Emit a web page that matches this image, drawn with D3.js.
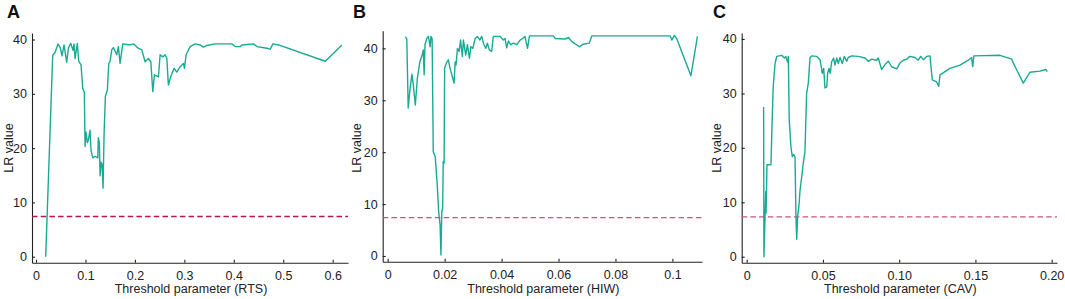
<!DOCTYPE html>
<html>
<head>
<meta charset="utf-8">
<script src="https://cdn.jsdelivr.net/npm/d3@7"></script>
<style>
  body { margin: 0; background: #fff; }
  text { font-family: Arial, "Liberation Sans", sans-serif; }
</style>
</head>
<body>
<script>
// LR value vs threshold parameter, three panels
const rtsPoints = [[0.0196, 0], [0.0338, 37.1], [0.0385, 37.6], [0.0445, 39.2], [0.049, 38.5], [0.0526, 37], [0.0567, 39], [0.0621, 35.8], [0.0658, 38.5], [0.0702, 39.3], [0.0749, 38.0], [0.0769, 39.2], [0.0789, 36.5], [0.0836, 39.3], [0.0864, 36], [0.0891, 35.6], [0.091, 35.4], [0.0945, 31], [0.0978, 30.3], [0.0992, 20.3], [0.1012, 23], [0.1038, 21], [0.106, 21.5], [0.1093, 23.3], [0.1113, 19.6], [0.1148, 18.2], [0.1194, 18.5], [0.1249, 18.2], [0.1261, 21.9], [0.1281, 21], [0.1296, 14.9], [0.1316, 17.4], [0.1336, 17], [0.1356, 12.6], [0.1377, 22.7], [0.1403, 29.5], [0.1443, 30.7], [0.1472, 35.6], [0.1498, 36], [0.1532, 38.1], [0.1565, 38.5], [0.1634, 37.2], [0.1666, 38.7], [0.17, 35.6], [0.1755, 39.2], [0.1903, 39], [0.197, 39.2], [0.2065, 38.4], [0.214, 38.1], [0.2206, 35.9], [0.2273, 36.5], [0.2322, 35.9], [0.2362, 30.4], [0.2395, 33.5], [0.2476, 33.1], [0.251, 37.2], [0.2565, 36.8], [0.2611, 37.2], [0.2646, 36.5], [0.2678, 31.6], [0.2713, 32.8], [0.2747, 33.7], [0.2794, 34.7], [0.2848, 34.0], [0.2915, 35], [0.2982, 35.6], [0.3002, 34.7], [0.3036, 37.2], [0.3117, 38.7], [0.3219, 39.2], [0.332, 39.0], [0.3387, 38.6], [0.3455, 38.9], [0.3623, 39.2], [0.3962, 39.2], [0.4028, 38.7], [0.413, 38.7], [0.4164, 39.0], [0.4399, 39.2], [0.4468, 38.7], [0.467, 38.4], [0.4737, 38.2], [0.4792, 39.2], [0.4905, 39.0], [0.585, 36.0], [0.6188, 39.0]];

const hiwPoints = [[0.0062, 42.25], [0.0067, 41.8], [0.0072, 28.5], [0.0078, 32], [0.0085, 35], [0.009, 32.9], [0.0097, 29.1], [0.0104, 34.2], [0.0113, 37.4], [0.0121, 38.7], [0.0125, 39.7], [0.0128, 34.9], [0.0131, 40.7], [0.0137, 41.9], [0.0143, 42.3], [0.0149, 40.3], [0.0152, 42.3], [0.0156, 41.9], [0.016, 20.1], [0.0167, 19.1], [0.0174, 13.7], [0.0179, 8.5], [0.0184, 6], [0.0187, 0.2], [0.019, 8.5], [0.0193, 9.2], [0.0195, 18.2], [0.0198, 17.9], [0.02, 36.2], [0.0207, 37.3], [0.0213, 37.8], [0.0219, 36.2], [0.0233, 33.3], [0.0237, 37.4], [0.024, 36.8], [0.0245, 40], [0.0251, 39.4], [0.0256, 41.6], [0.0262, 38.4], [0.0266, 41.6], [0.0274, 38.7], [0.028, 40.7], [0.0287, 38.1], [0.0292, 40.3], [0.0299, 40], [0.0307, 41.9], [0.0315, 42.3], [0.0324, 41.6], [0.033, 42.3], [0.0338, 40.7], [0.0345, 40], [0.035, 41], [0.0357, 39.7], [0.0365, 39.4], [0.0371, 42.3], [0.0395, 42.3], [0.0406, 41.6], [0.0412, 41.9], [0.0418, 40.1], [0.0424, 41.4], [0.0432, 40.7], [0.0441, 41.0], [0.0453, 40.7], [0.0465, 41.6], [0.0474, 41.9], [0.0482, 42.3], [0.0491, 40.0], [0.0498, 42.4], [0.0582, 42.4], [0.0588, 41.9], [0.0623, 41.8], [0.0635, 42.1], [0.0647, 41.3], [0.0673, 40.3], [0.0687, 40.8], [0.0708, 41.0], [0.0717, 42.4], [0.0922, 42.4], [0.0992, 42.4], [0.0998, 41.6], [0.1007, 42.5], [0.1015, 41.9], [0.1065, 34.7], [0.1088, 42.3]];

const cavPoints = [[0.0111, 27.5], [0.0113, 0], [0.0125, 12], [0.0127, 8], [0.0133, 16.9], [0.0159, 16.9], [0.0164, 22.1], [0.0174, 31.3], [0.0186, 35.5], [0.0197, 36.8], [0.023, 37.0], [0.0247, 36.5], [0.0256, 36.8], [0.0269, 35.7], [0.0273, 36.8], [0.0279, 25.1], [0.029, 20.2], [0.0299, 18.4], [0.0308, 18.8], [0.0317, 18.3], [0.0323, 7.35], [0.0328, 3.2], [0.0334, 7.4], [0.0343, 9.5], [0.035, 12.3], [0.0361, 14.7], [0.0371, 17.2], [0.0382, 19.3], [0.0393, 30], [0.0404, 31.9], [0.0415, 36.5], [0.0426, 36.9], [0.0459, 36.8], [0.047, 36.5], [0.0481, 36.2], [0.0496, 33.7], [0.0505, 34.6], [0.0513, 31], [0.0525, 31.2], [0.0531, 33.7], [0.054, 34.6], [0.0548, 33.7], [0.0557, 35.8], [0.057, 36.5], [0.0579, 35.2], [0.059, 36.5], [0.0601, 35.5], [0.0612, 36.6], [0.0627, 35.5], [0.064, 36.8], [0.0656, 35.9], [0.0666, 36.6], [0.0689, 36.9], [0.0732, 36.8], [0.0776, 36.5], [0.0797, 35.9], [0.082, 36.3], [0.0852, 36.1], [0.0863, 36.5], [0.0885, 34.4], [0.0907, 35.3], [0.0929, 35.9], [0.0951, 34.9], [0.0984, 34.5], [0.1005, 35.6], [0.1027, 36.1], [0.1049, 36.3], [0.1071, 36.8], [0.1104, 36.6], [0.1125, 36.1], [0.1141, 36.8], [0.1158, 36.2], [0.118, 36.8], [0.1202, 36.9], [0.1217, 32.5], [0.1246, 32.1], [0.1259, 31.3], [0.1268, 33.4], [0.1333, 34.6], [0.1399, 35.2], [0.1453, 36.1], [0.1475, 36.6], [0.1482, 34.9], [0.149, 36.9], [0.1661, 37.0], [0.1738, 36.3], [0.1748, 35.6], [0.1814, 31.9], [0.1858, 33.9], [0.1923, 34.1], [0.1961, 34.4], [0.1971, 34.0]];

const panelLetters = ["A", "B", "C"];
const xLabels = ["Threshold parameter (RTS)", "Threshold parameter (HIW)", "Threshold parameter (CAV)"];
const thresholds = [7.4, 7.4, 7.3];
const yTicks = [0, 10, 20, 30, 40];
const rtsTicks = [0, 0.1, 0.2, 0.3, 0.4, 0.5, 0.6];
const hiwTicks = [0, 0.02, 0.04, 0.06, 0.08, 0.1];
const cavTicks = [0, 0.05, 0.10, 0.15, 0.20];

const lineColor = "#1aa994";

const svg = d3.select("body")
    .append("svg")
    .attr("width", 1065)
    .attr("height", 299);

const panels = [
  { points: rtsPoints, ticks: rtsTicks, fmt: d => d === 0 ? "0" : d3.format(".1f")(d),
    xDomain: [-0.0081, 0.631], xRange: [32, 348], yDomain: [-1.1, 41.2], yRange: [262.7, 33],
    letterX: 7, ylabX: 9, dash: "#b3174c", dashW: 1.6 },
  { points: hiwPoints, ticks: hiwTicks, fmt: d => d === 0 ? "0" : (d === 0.1 ? "0.1" : d3.format(".2f")(d)),
    xDomain: [-0.00176, 0.1104], xRange: [382.7, 702], yDomain: [-1.1, 43.4], yRange: [261.7, 30.7],
    letterX: 353, ylabX: 357, dash: "#c9557a", dashW: 1.25 },
  { points: cavPoints, ticks: cavTicks, fmt: d => d === 0 ? "0" : d3.format(".2f")(d),
    xDomain: [-0.00328, 0.2035], xRange: [741.7, 1057], yDomain: [-1.1, 41.1], yRange: [262.7, 33],
    letterX: 713, ylabX: 717, dash: "#c9557a", dashW: 1.25 }
];

panels.forEach((p, i) => {
  const x = d3.scaleLinear().domain(p.xDomain).range(p.xRange);
  const y = d3.scaleLinear().domain(p.yDomain).range(p.yRange);
  const g = svg.append("g");

  // axes, ticks pointing inward
  const xAxis = g.append("g")
      .attr("transform", `translate(0,${p.yRange[0]})`)
      .call(d3.axisBottom(x).tickValues(p.ticks).tickFormat(p.fmt)
          .tickSizeInner(-3).tickSizeOuter(0).tickPadding(8));
  const yAxis = g.append("g")
      .attr("transform", `translate(${p.xRange[0]},0)`)
      .call(d3.axisLeft(y).tickValues(yTicks).tickSizeInner(-3).tickSizeOuter(0).tickPadding(5));

  [xAxis, yAxis].forEach(a => {
    a.selectAll("text").attr("font-size", 12.5).attr("fill", "#222")
        .attr("font-family", "Arial, 'Liberation Sans', sans-serif");
    a.selectAll("path, line").attr("stroke", "#222").attr("stroke-width", 1.1);
  });

  // threshold line
  g.append("line")
      .attr("x1", p.xRange[0])
      .attr("x2", p.xRange[1])
      .attr("y1", y(thresholds[i]))
      .attr("y2", y(thresholds[i]))
      .attr("stroke", p.dash)
      .attr("stroke-width", p.dashW)
      .attr("stroke-dasharray", "5.5,3.2");

  // LR curve
  g.append("path")
      .datum(p.points)
      .attr("fill", "none")
      .attr("stroke", lineColor)
      .attr("stroke-width", 1.4)
      .attr("stroke-linejoin", "round")
      .attr("d", d3.line().x(d => x(d[0])).y(d => y(d[1])));

  g.append("text")
      .attr("x", p.letterX)
      .attr("y", 18)
      .attr("font-size", 18)
      .attr("font-weight", "bold")
      .attr("fill", "#111")
      .text(panelLetters[i]);

  g.append("text")
      .attr("transform", `translate(${p.ylabX + 4},148) rotate(-90)`)
      .attr("text-anchor", "middle")
      .attr("font-size", 12.5)
      .attr("fill", "#222")
      .text("LR value");

  g.append("text")
      .attr("x", (p.xRange[0] + p.xRange[1]) / 2 + 1)
      .attr("y", 293)
      .attr("text-anchor", "middle")
      .attr("font-size", 12.5)
      .attr("fill", "#222")
      .text(xLabels[i]);
});
</script>
</body>
</html>
